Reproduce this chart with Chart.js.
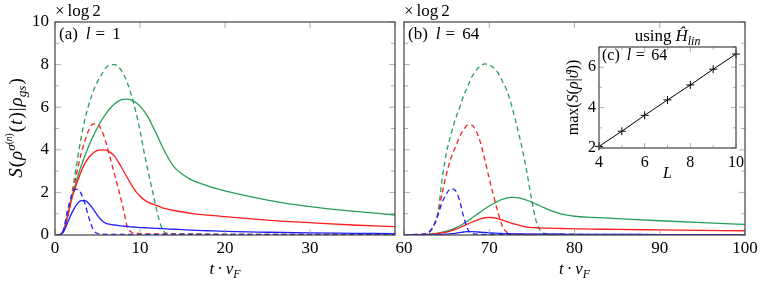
<!DOCTYPE html>
<html>
<head>
<meta charset="utf-8">
<script src="https://cdn.jsdelivr.net/npm/chart.js@4.4.1/dist/chart.umd.min.js"></script>
<style>
  html, body { margin: 0; padding: 0; background: #fff; }
  #wrap { position: relative; width: 764px; height: 282px; overflow: hidden; }
  canvas { position: absolute; }
</style>
</head>
<body>
<div id="wrap">
  <canvas id="panelA" width="400" height="282" style="left:0;top:0"></canvas>
  <canvas id="panelB" width="384" height="282" style="left:380px;top:0"></canvas>
  <canvas id="panelC" width="200" height="160" style="left:550px;top:25px"></canvas>
</div>
<script>
// panel (a), l = 1
const tA = [0, 0.5, 1, 1.5, 2, 2.5, 3, 3.5, 4, 4.5, 5, 5.5, 6, 6.5, 7, 7.5, 8, 8.5, 9, 9.5, 10,
  10.5, 11, 11.5, 12, 12.5, 13, 14, 15, 16, 18, 20, 25, 30, 35, 40];
const aGreenDash = [0, 0.01, 0.2, 0.9, 2.0, 3.2, 4.4, 5.4, 6.15, 6.75, 7.2, 7.55, 7.85, 8.0, 8.0, 7.88, 7.6, 7.15, 6.55, 5.8, 4.9,
  3.85, 2.9, 2.0, 1.1, 0.4, 0.1, 0.06, 0.05, 0.05, 0.04, 0.04, 0.03, 0.03, 0.02, 0.02];
const aGreen = [0, 0.01, 0.2, 0.95, 1.8, 2.5, 3.15, 3.7, 4.2, 4.65, 5.05, 5.4, 5.7, 5.95, 6.15, 6.3, 6.37, 6.38, 6.33, 6.22, 6.05,
  5.8, 5.5, 5.1, 4.7, 4.25, 3.85, 3.2, 2.85, 2.6, 2.3, 2.07, 1.64, 1.33, 1.12, 0.94];
const aRedDash = [0, 0.01, 0.2, 0.9, 1.8, 2.8, 3.7, 4.4, 4.95, 5.22, 5.2, 4.9, 4.35, 3.6, 2.85, 2.1, 1.3, 0.4, 0.13, 0.08, 0.06,
  0.05, 0.05, 0.05, 0.05, 0.05, 0.05, 0.04, 0.04, 0.04, 0.04, 0.03, 0.03, 0.03, 0.02, 0.02];
const aRed = [0, 0.01, 0.2, 0.9, 1.75, 2.35, 2.9, 3.35, 3.65, 3.85, 3.97, 4.0, 3.98, 3.88, 3.7, 3.4, 3.05, 2.7, 2.35, 2.05, 1.82,
  1.65, 1.53, 1.45, 1.38, 1.3, 1.24, 1.15, 1.08, 1.02, 0.93, 0.86, 0.7, 0.58, 0.47, 0.39];
const aBlueDash = [0, 0.01, 0.25, 1.2, 1.9, 2.15, 2.0, 1.5, 0.8, 0.25, 0.07, 0.04, 0.03, 0.03, 0.03, 0.03, 0.03, 0.03, 0.03, 0.03, 0.03,
  0.03, 0.03, 0.03, 0.03, 0.03, 0.03, 0.03, 0.03, 0.03, 0.02, 0.02, 0.02, 0.02, 0.02, 0.02];
const aBlue = [0, 0.01, 0.15, 0.6, 1.05, 1.4, 1.6, 1.62, 1.47, 1.22, 0.92, 0.68, 0.55, 0.5, 0.47, 0.44, 0.42, 0.4, 0.38, 0.37, 0.35,
  0.34, 0.33, 0.32, 0.31, 0.3, 0.29, 0.27, 0.25, 0.23, 0.2, 0.17, 0.13, 0.1, 0.08, 0.06];

// panel (b), l = 64
const tB = [60, 61, 62, 62.5, 63, 63.5, 64, 64.5, 65, 65.5, 66, 66.5, 67, 67.5, 68, 68.5, 69, 69.5, 70, 70.5,
  71, 71.5, 72, 72.5, 73, 73.5, 74, 74.5, 75, 75.5, 76, 76.5, 77, 78, 79, 80, 82, 85, 90, 95, 100];
const bGreenDash = [0.02, 0.02, 0.03, 0.05, 0.15, 0.45, 1.1, 2.7, 3.9, 4.7, 5.4, 5.95, 6.55, 7.0, 7.45, 7.75, 7.95, 8.03, 7.98, 7.85,
  7.62, 7.25, 6.85, 6.25, 5.5, 4.7, 3.8, 2.75, 1.6, 0.65, 0.2, 0.08, 0.05, 0.04, 0.04, 0.03, 0.03, 0.03, 0.02, 0.02, 0.02];
const bGreen = [0, 0, 0.01, 0.02, 0.04, 0.06, 0.09, 0.13, 0.18, 0.24, 0.32, 0.42, 0.54, 0.67, 0.81, 0.95, 1.09, 1.23, 1.36, 1.48,
  1.58, 1.67, 1.73, 1.77, 1.77, 1.74, 1.69, 1.62, 1.54, 1.45, 1.36, 1.27, 1.18, 1.04, 0.94, 0.88, 0.83, 0.77, 0.67, 0.58, 0.5];
const bRedDash = [0.02, 0.02, 0.03, 0.05, 0.15, 0.45, 1.0, 2.0, 2.9, 3.6, 4.1, 4.6, 4.95, 5.17, 5.15, 4.85, 4.3, 3.5, 2.65, 1.85,
  1.1, 0.45, 0.15, 0.07, 0.05, 0.04, 0.04, 0.04, 0.04, 0.03, 0.03, 0.03, 0.03, 0.03, 0.03, 0.03, 0.02, 0.02, 0.02, 0.02, 0.02];
const bRed = [0, 0, 0.01, 0.02, 0.03, 0.05, 0.07, 0.1, 0.14, 0.19, 0.26, 0.34, 0.43, 0.52, 0.61, 0.69, 0.76, 0.81, 0.83, 0.81,
  0.77, 0.71, 0.64, 0.57, 0.51, 0.46, 0.41, 0.37, 0.35, 0.34, 0.33, 0.32, 0.32, 0.31, 0.3, 0.29, 0.28, 0.26, 0.24, 0.22, 0.2];
const bBlueDash = [0.02, 0.02, 0.03, 0.05, 0.15, 0.45, 0.95, 1.55, 1.95, 2.17, 2.1, 1.65, 0.85, 0.25, 0.07, 0.04, 0.03, 0.03, 0.03, 0.03,
  0.03, 0.03, 0.03, 0.03, 0.03, 0.03, 0.03, 0.03, 0.03, 0.03, 0.03, 0.03, 0.03, 0.03, 0.02, 0.02, 0.02, 0.02, 0.02, 0.02, 0.02];
const bBlue = [0, 0, 0, 0.01, 0.01, 0.01, 0.02, 0.03, 0.04, 0.06, 0.08, 0.11, 0.14, 0.16, 0.16, 0.15, 0.13, 0.12, 0.1, 0.09,
  0.08, 0.07, 0.06, 0.06, 0.05, 0.05, 0.05, 0.04, 0.04, 0.04, 0.04, 0.04, 0.04, 0.04, 0.03, 0.03, 0.03, 0.03, 0.02, 0.02, 0.02];

// inset (c): max entropy vs system size L
const insetL = [4, 5, 6, 7, 8, 9, 10];
const insetMaxS = [2.08, 2.83, 3.62, 4.38, 5.12, 5.9, 6.65];

// labelled ticks
const yLabelled = [0, 2, 4, 6, 8, 10];
const xLabelledA = [0, 10, 20, 30];
const xLabelledB = [60, 70, 80, 90, 100];
const insetXLabelled = [4, 6, 8, 10];
const insetYLabelled = [2, 4, 6];

const GREEN = 'rgb(38,158,88)';
const RED = 'rgb(255,28,28)';
const BLUE = 'rgb(30,30,255)';
const SERIF = "'Liberation Serif', 'DejaVu Serif', serif";

function pts(xs, ys) {
  return xs.map(function (x, i) { return { x: x, y: ys[i] }; });
}

function curve(xs, ys, color, dashed) {
  return {
    data: pts(xs, ys),
    borderColor: color,
    borderWidth: 1.3,
    borderDash: dashed ? [5, 3.5] : [],
    pointRadius: 0,
    cubicInterpolationMode: 'monotone',
    fill: false
  };
}

// draw a piece of text made of roman/italic/sub/superscript parts
function rich(ctx, parts, x, y, size, align, rot) {
  ctx.save();
  ctx.translate(x, y);
  if (rot) ctx.rotate(rot);
  ctx.textBaseline = 'alphabetic';
  ctx.textAlign = 'left';
  ctx.fillStyle = '#000';
  function fontOf(p) {
    return (p.it ? 'italic ' : '') + (size * (p.s || 1)).toFixed(1) + 'px ' + SERIF;
  }
  let w = 0;
  parts.forEach(function (p) {
    ctx.font = fontOf(p);
    p.w = ctx.measureText(p.t).width + (p.g || 0);
    w += p.w;
  });
  let cx = align === 'center' ? -w / 2 : 0;
  parts.forEach(function (p) {
    ctx.font = fontOf(p);
    ctx.fillText(p.t, cx, p.dy || 0);
    cx += p.w;
  });
  ctx.restore();
}

function frameAndTicks(chart, major, minor) {
  const ctx = chart.ctx;
  const a = chart.chartArea;
  const xs = chart.scales.x;
  const ys = chart.scales.y;
  ctx.save();
  ctx.strokeStyle = '#9a9a9a';
  ctx.lineWidth = 0.8;
  ctx.beginPath();
  xs.ticks.forEach(function (t) {
    const px = xs.getPixelForValue(t.value);
    const len = t.label === '' ? minor : major;
    ctx.moveTo(px, a.bottom); ctx.lineTo(px, a.bottom - len);
    ctx.moveTo(px, a.top); ctx.lineTo(px, a.top + len);
  });
  ys.ticks.forEach(function (t) {
    const py = ys.getPixelForValue(t.value);
    const len = t.label === '' ? minor : major;
    ctx.moveTo(a.left, py); ctx.lineTo(a.left + len, py);
    ctx.moveTo(a.right, py); ctx.lineTo(a.right - len, py);
  });
  ctx.stroke();
  ctx.strokeStyle = '#444';
  ctx.lineWidth = 1.2;
  ctx.strokeRect(a.left, a.top, a.right - a.left, a.bottom - a.top);
  ctx.restore();
}

function tickFont(size) {
  return { family: SERIF, size: size };
}

function xAxis(min, max, step, labelled, height, pad, size) {
  return {
    type: 'linear', min: min, max: max,
    grid: { display: false, drawTicks: false },
    border: { display: false },
    ticks: {
      stepSize: step, autoSkip: false, maxRotation: 0, color: '#000', padding: pad,
      font: tickFont(size),
      callback: function (v) { return labelled.indexOf(v) >= 0 ? String(v) : ''; }
    },
    afterFit: function (s) { s.height = height; s.paddingLeft = 0; s.paddingRight = 0; }
  };
}

function yAxis(min, max, step, labelled, width, pad, size, show) {
  return {
    type: 'linear', min: min, max: max,
    grid: { display: false, drawTicks: false },
    border: { display: false },
    ticks: {
      display: show, stepSize: step, autoSkip: false, color: '#000', padding: pad,
      font: tickFont(size),
      callback: function (v) { return labelled.indexOf(v) >= 0 ? String(v) : ''; }
    },
    afterFit: function (s) { s.width = width; s.paddingTop = 0; s.paddingBottom = 0; }
  };
}

function R(t, g) { return { t: t, g: g || 0 }; }
function I(t, g) { return { t: t, it: true, g: g || 0 }; }

const xTitle = [I('t', 3), R('·', 3), I('v'), { t: 'F', it: true, s: 0.7, dy: 3.5 }];

function baseOptions(padding, scales) {
  return {
    responsive: false,
    animation: false,
    devicePixelRatio: 1,
    layout: { padding: padding },
    plugins: { legend: { display: false }, tooltip: { enabled: false } },
    scales: scales
  };
}

function drawAll() {
  new Chart(document.getElementById('panelA'), {
    type: 'line',
    data: {
      datasets: [
        curve(tA, aBlue, BLUE, false),
        curve(tA, aBlueDash, BLUE, true),
        curve(tA, aRed, RED, false),
        curve(tA, aRedDash, RED, true),
        curve(tA, aGreen, GREEN, false),
        curve(tA, aGreenDash, GREEN, true)
      ]
    },
    options: baseOptions({ top: 22, right: 5, left: 0, bottom: 0 }, {
      x: xAxis(0, 40, 10, xLabelledA, 47, 3, 17),
      y: yAxis(0, 10, 1, yLabelled, 55, 6, 17, true)
    }),
    plugins: [{
      id: 'decorA',
      afterDraw: function (chart) {
        const ctx = chart.ctx;
        const a = chart.chartArea;
        frameAndTicks(chart, 6, 4);
        rich(ctx, [R('×', 3), R('log', 3), R('2')], a.left, 16, 17, 'left');
        rich(ctx, [R('(a)', 8), I('l', 5), R('=', 7), R('1')], a.left + 4, 38.5, 17, 'left');
        rich(ctx, xTitle, (a.left + a.right) / 2, 274, 17, 'center');
        rich(ctx, [
          I('S', 1), R('(', 1), I('ρ'),
          { t: 'σ', it: true, s: 0.7, dy: -7 },
          { t: '(', s: 0.5, dy: -10 }, { t: 'n', it: true, s: 0.5, dy: -10 }, { t: ')', s: 0.5, dy: -10, g: 1 },
          R('(', 1), I('t', 1), R(')', 1), R('|', 1), I('ρ'),
          { t: 'gs', it: true, s: 0.7, dy: 4, g: 1 }, R(')')
        ], 22, 128, 19, 'center', -Math.PI / 2);
      }
    }]
  });

  new Chart(document.getElementById('panelB'), {
    type: 'line',
    data: {
      datasets: [
        curve(tB, bBlue, BLUE, false),
        curve(tB, bBlueDash, BLUE, true),
        curve(tB, bRed, RED, false),
        curve(tB, bRedDash, RED, true),
        curve(tB, bGreen, GREEN, false),
        curve(tB, bGreenDash, GREEN, true)
      ]
    },
    options: baseOptions({ top: 22, right: 19, left: 0, bottom: 0 }, {
      x: xAxis(60, 100, 10, xLabelledB, 47, 3, 17),
      y: yAxis(0, 10, 1, yLabelled, 24, 6, 17, false)
    }),
    plugins: [{
      id: 'decorB',
      afterDraw: function (chart) {
        const ctx = chart.ctx;
        const a = chart.chartArea;
        frameAndTicks(chart, 6, 4);
        rich(ctx, [R('×', 3), R('log', 3), R('2')], a.left, 16, 17, 'left');
        rich(ctx, [R('(b)', 8), I('l', 5), R('=', 7), R('64')], a.left + 4, 38.5, 17, 'left');
        rich(ctx, xTitle, (a.left + a.right) / 2, 274, 17, 'center');
      }
    }]
  });

  new Chart(document.getElementById('panelC'), {
    type: 'line',
    data: {
      datasets: [{
        data: pts(insetL, insetMaxS),
        borderColor: '#000',
        borderWidth: 1,
        pointStyle: 'cross',
        pointRadius: 4,
        pointBorderWidth: 1,
        pointBorderColor: '#000',
        tension: 0,
        clip: false
      }]
    },
    options: baseOptions({ top: 22, right: 14, left: 0, bottom: 0 }, {
      x: xAxis(4, 10, 1, insetXLabelled, 37, 5, 16),
      y: yAxis(2, 7, 1, insetYLabelled, 49, 3, 16, true)
    }),
    plugins: [{
      id: 'decorC',
      afterDraw: function (chart) {
        const ctx = chart.ctx;
        const a = chart.chartArea;
        frameAndTicks(chart, 5, 3);
        rich(ctx, [R('using', 4), I('Ĥ'), { t: 'lin', it: true, s: 0.7, dy: 3.5 }],
          (a.left + a.right) / 2, 16, 17, 'center');
        rich(ctx, [R('(c)', 7), I('l', 4.5), R('=', 6.5), R('64')], a.left + 3, 34.5, 16, 'left');
        rich(ctx, [R('max('), I('S'), R('('), I('ρ'), R('|'), I('ϑ'), R('))')],
          28, (a.top + a.bottom) / 2, 16, 'center', -Math.PI / 2);
        rich(ctx, [I('L')], (a.left + a.right) / 2, 153, 16, 'center');
      }
    }]
  });
}

// make sure the serif face is ready before the canvases use it
Promise.all([
  document.fonts.load("17px 'Liberation Serif'"),
  document.fonts.load("italic 17px 'Liberation Serif'")
]).then(drawAll, drawAll);
</script>
</body>
</html>
